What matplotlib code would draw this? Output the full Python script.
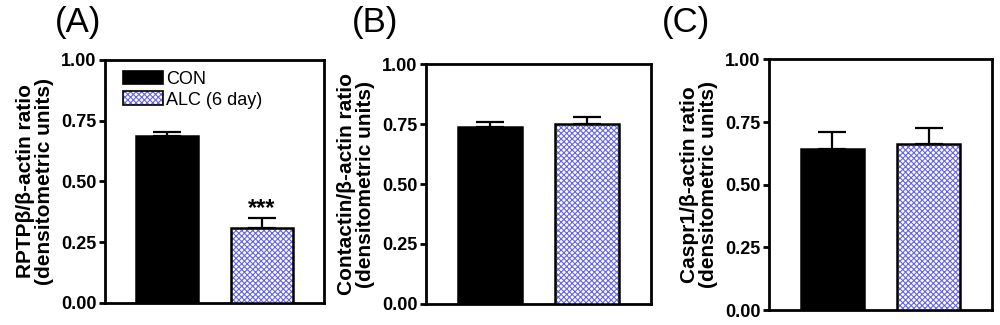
import matplotlib.pyplot as plt
from matplotlib.patches import Patch
from matplotlib.legend_handler import HandlerTuple

plt.rcParams['font.family'] = ['Liberation Sans', 'DejaVu Sans']
plt.rcParams['hatch.linewidth'] = 0.8

# data
groups = ['CON', 'ALC (6 day)']
panel_letters = ['(A)', '(B)', '(C)']
ylabels = ['RPTP\u03b2/\u03b2-actin ratio\n(densitometric units)',
           'Contactin/\u03b2-actin ratio\n(densitometric units)',
           'Caspr1/\u03b2-actin ratio\n(densitometric units)']
means = [[0.685, 0.31], [0.738, 0.75], [0.641, 0.663]]
sems = [[0.017, 0.039], [0.02, 0.03], [0.069, 0.063]]
yticks = [0.0, 0.25, 0.5, 0.75, 1.0]

hatch_blue = '#6464ee'
hatch = 'xxxxxx'

# axes boxes in figure fraction (left, bottom, width, height)
boxes = [(0.105, 0.068, 0.219, 0.748),
         (0.426, 0.065, 0.225, 0.737),
         (0.769, 0.046, 0.223, 0.771)]
letter_x = [0.055, 0.352, 0.662]

fig = plt.figure(figsize=(10, 3.25), dpi=100)

for i in range(3):
    ax = fig.add_axes(boxes[i])
    x = [0, 1]
    w = 0.66
    # control bar
    ax.bar(x[0], means[i][0], width=w, color='black', edgecolor='black',
           linewidth=1.8, zorder=3)
    # alcohol bar: hatch layer then black outline
    ax.bar(x[1], means[i][1], width=w, color='white', edgecolor=hatch_blue,
           hatch=hatch, linewidth=0, zorder=3)
    ax.bar(x[1], means[i][1], width=w, fill=False, edgecolor='black',
           linewidth=1.8, zorder=4)
    ax.errorbar(x, means[i], yerr=[[0, 0], sems[i]], fmt='none',
                ecolor='black', elinewidth=1.6, capsize=10, capthick=1.6,
                zorder=2)
    ax.set_xlim(-0.66, 1.66)
    ax.set_ylim(0, 1.0)
    ax.set_yticks(yticks)
    ax.set_yticklabels([f'{t:.2f}' for t in yticks], fontweight='bold',
                       fontsize=13)
    ax.set_xticks([])
    ax.tick_params(axis='y', direction='out', length=4, width=2, pad=2)
    for s in ax.spines.values():
        s.set_linewidth(2)
    ax.set_ylabel(ylabels[i], fontsize=15, fontweight='bold', labelpad=5,
                  linespacing=1.0)
    fig.text(letter_x[i], 0.93, panel_letters[i], fontsize=25,
             ha='left', va='center')

    if i == 0:
        ax.text(x[1], means[i][1] + sems[i][1] - 0.01, '***', ha='center',
                va='bottom', fontsize=17, fontweight='bold')
        h_con = Patch(facecolor='black', edgecolor='black', linewidth=1.2)
        h_alc = (Patch(facecolor='white', edgecolor=hatch_blue,
                       hatch=hatch, linewidth=0),
                 Patch(fill=False, edgecolor='black', linewidth=1.2))
        ax.legend([h_con, h_alc], groups, loc='upper left',
                  bbox_to_anchor=(0.035, 1.0), frameon=False, fontsize=13,
                  handlelength=2.2, handleheight=0.8, handletextpad=0.15,
                  labelspacing=0.2, borderaxespad=0.2,
                  handler_map={tuple: HandlerTuple(ndivide=1, pad=0)})

fig.savefig('out.png', dpi=100)
